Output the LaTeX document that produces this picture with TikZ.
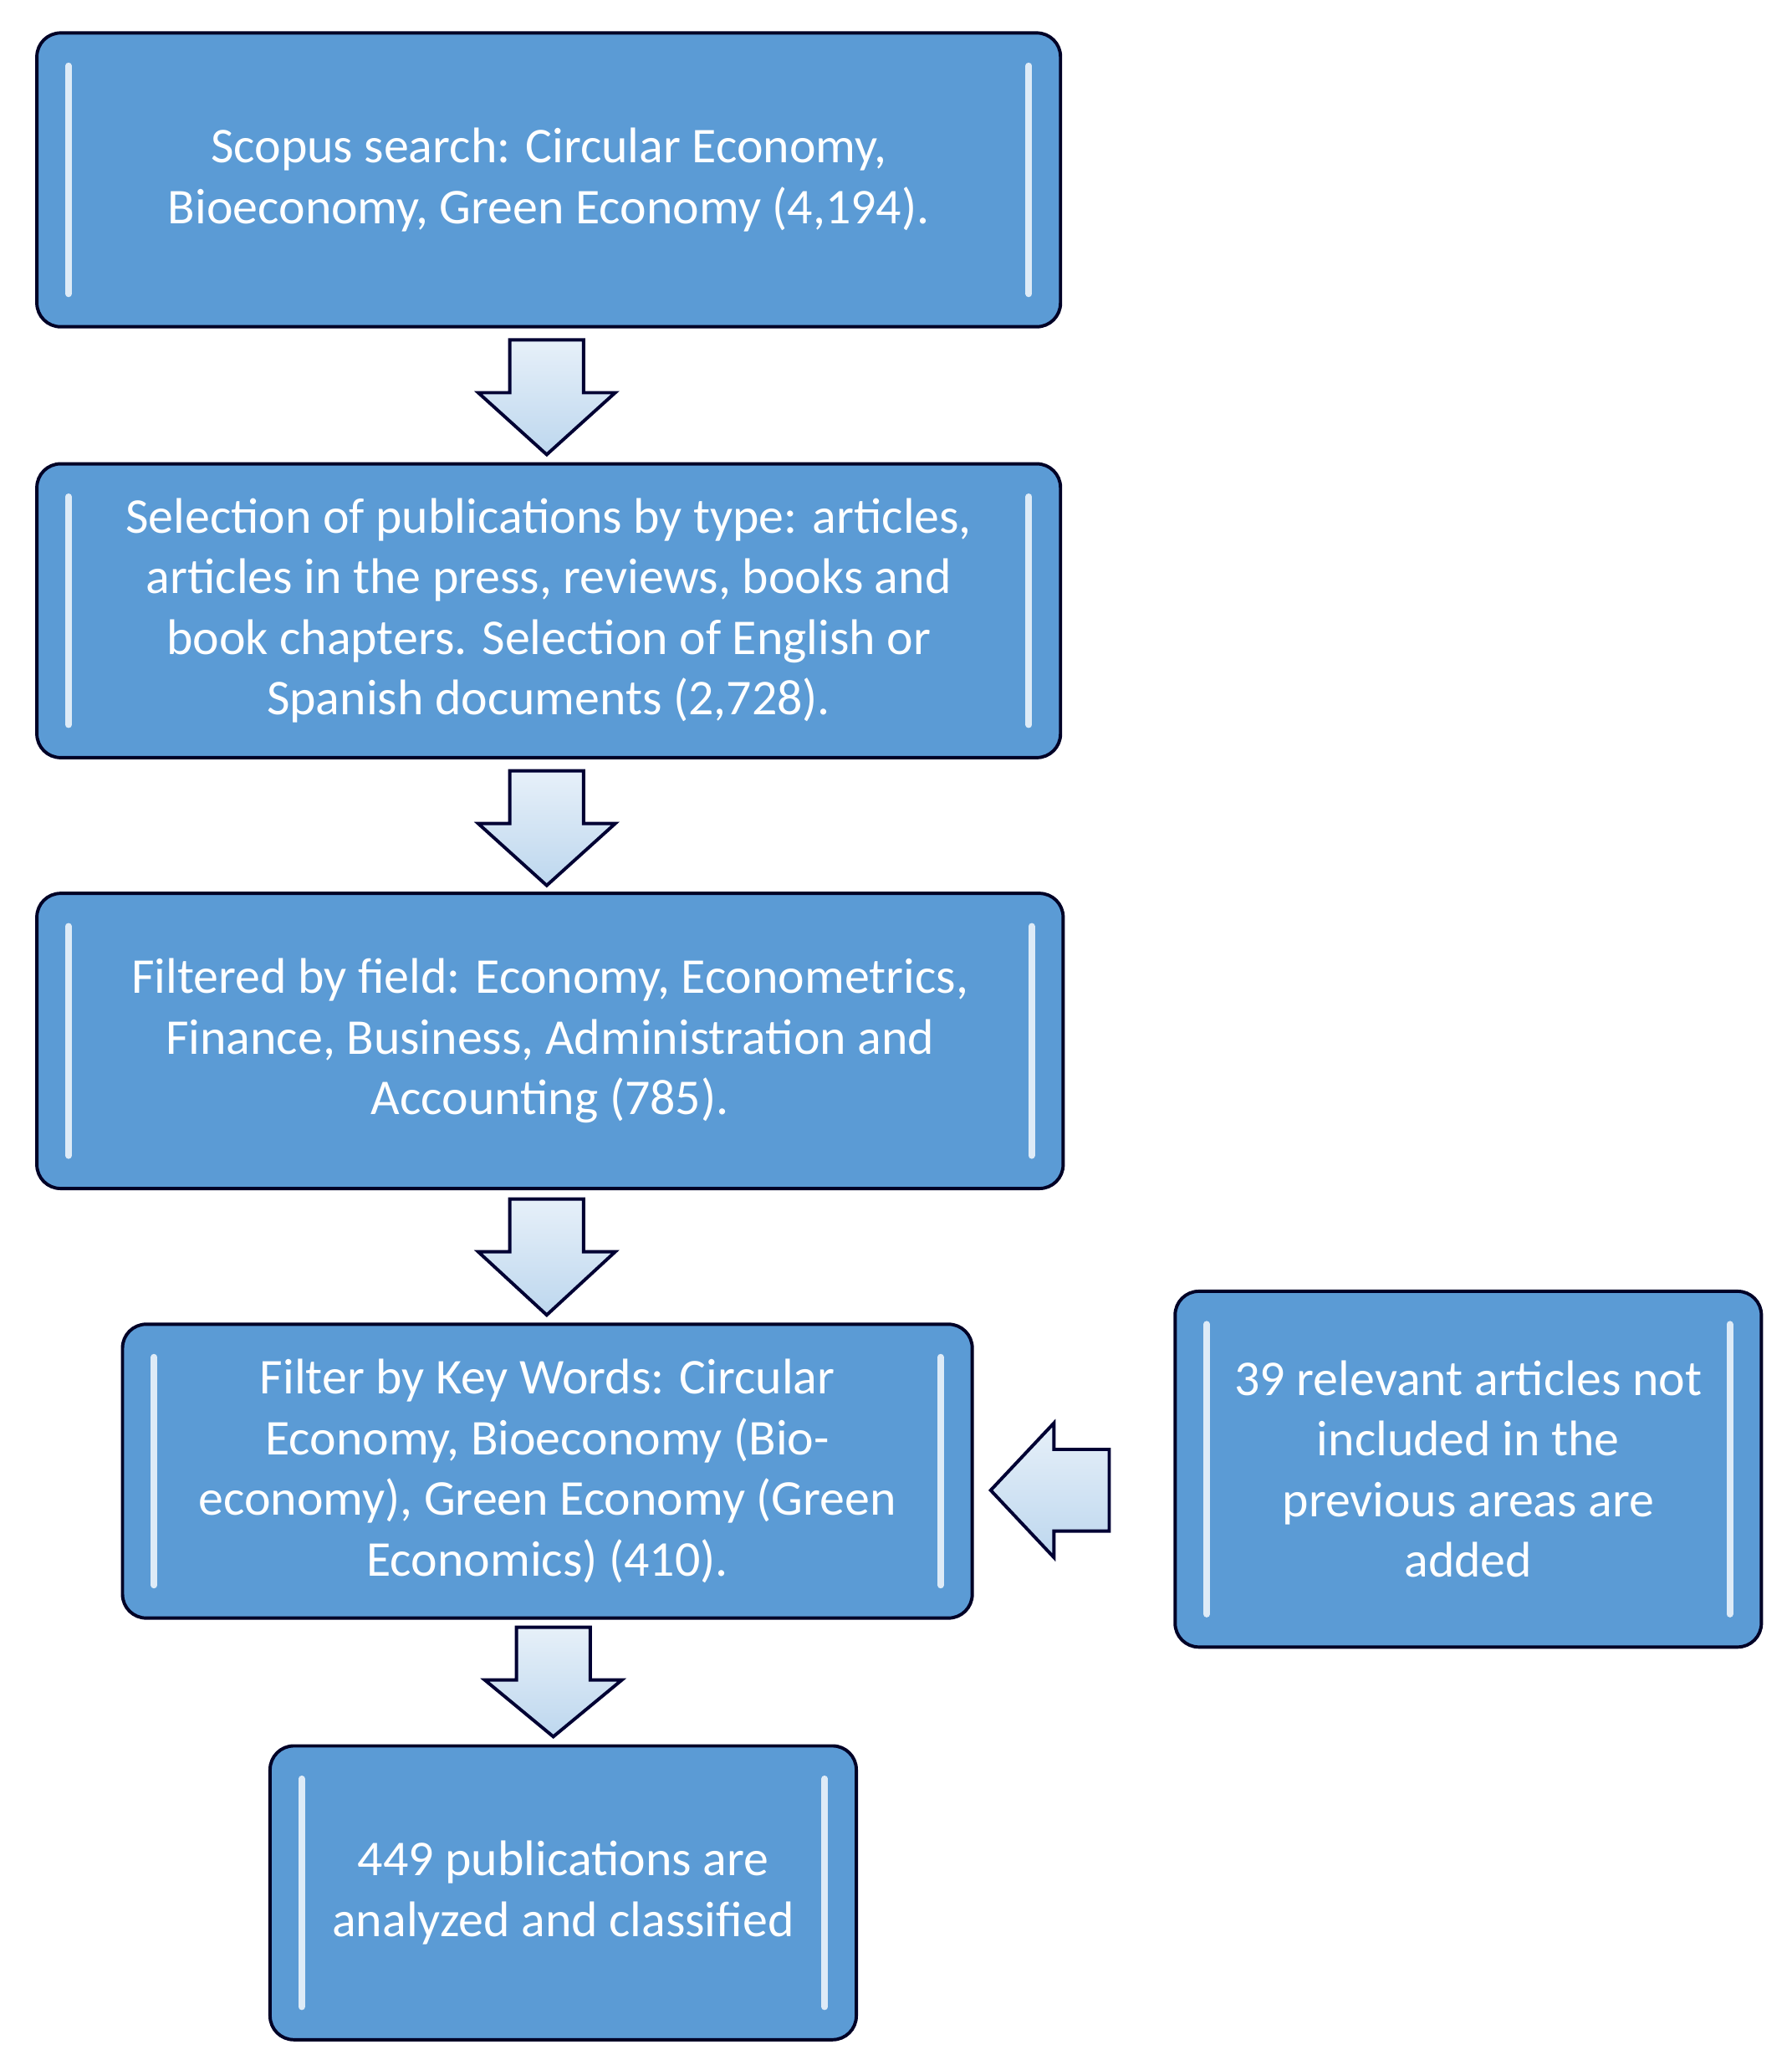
\documentclass[tikz,border=0pt]{standalone}
\usepackage{fontspec}
\setmainfont{Carlito}
\begin{document}
\begin{tikzpicture}[x=1pt,y=-1pt,
  box/.style={draw=black!85!blue,line width=2.5pt,fill=blue5,rounded corners=18pt,text=white,align=center,inner sep=0pt,font=\fontsize{38}{46}\selectfont},
  hl/.style={draw=white!80!blue5,line width=5pt,line cap=round},
  barrow/.style={draw=black!80!blue,line width=2.5pt,line join=miter,top color=white!85!blue5,bottom color=white!60!blue5}]
\definecolor{blue5}{HTML}{5B9BD5}
\useasboundingbox (0,0) rectangle (1360,1571);
\newcommand{\bx}[6]{% name, x1,y1,x2,y2,text
  \node[box,minimum width=#4-#2,minimum height=#5-#3] (#1) at ({(#2+#4)/2},{(#3+#5)/2}) {#6};
  \draw[hl] (#2+24,#3+25) -- (#2+24,#5-25);
  \draw[hl] (#4-24,#3+25) -- (#4-24,#5-25);}
\bx{b1}{28}{25}{805}{248}{Scopus search: Circular Economy,\\Bioeconomy, Green Economy (4,194).}
\bx{b2}{28}{352}{805}{575}{Selection of publications by type: articles,\\articles in the press, reviews, books and\\book chapters. Selection of English or\\Spanish documents (2,728).}
\bx{b3}{28}{678}{807}{902}{Filtered by field: Economy, Econometrics,\\Finance, Business, Administration and\\Accounting (785).}
\bx{b4}{93}{1005}{738}{1228}{Filter by Key Words: Circular\\Economy, Bioeconomy (Bio-\\economy), Green Economy (Green\\Economics) (410).}
\bx{b5}{892}{980}{1337}{1250}{39 relevant articles not\\included in the\\previous areas are\\added}
\bx{b6}{205}{1325}{650}{1548}{449 publications are\\analyzed and classified}
\newcommand{\darrow}[3]{% cx, ytop, ybot
  \draw[barrow] (#1-28,#2) -- (#1+28,#2) -- (#1+28,#2+40) -- (#1+52,#2+40) -- (#1,#3) -- (#1-52,#2+40) -- (#1-28,#2+40) -- cycle;}
\darrow{415}{258}{345}
\darrow{415}{585}{672}
\darrow{415}{910}{998}
\darrow{420}{1235}{1318}
\draw[barrow] (842,1100) -- (842,1162) -- (800,1162) -- (800,1182) -- (752,1131) -- (800,1080) -- (800,1100) -- cycle;
\end{tikzpicture}
\end{document}
